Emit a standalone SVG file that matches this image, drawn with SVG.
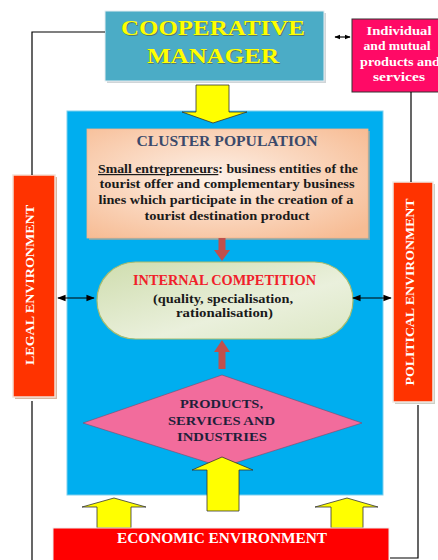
<svg xmlns="http://www.w3.org/2000/svg" width="438" height="560" viewBox="0 0 438 560">
<defs>
<style>
text{font-family:"Liberation Serif","Times New Roman",serif;font-weight:bold;text-anchor:middle}
.ln{fill:none;stroke:#000;stroke-width:1.2}
.yarrow{fill:#FFFF00;stroke:#333;stroke-width:0.8}
.rarrow{fill:#C0504D}
.wt{fill:#fff}
</style>
<radialGradient id="gPeach" cx="0.45" cy="0.45" r="0.7">
<stop offset="0" stop-color="#FDF1E8"/>
<stop offset="1" stop-color="#F7BC94"/>
</radialGradient>
<linearGradient id="gGreen" x1="0" y1="0" x2="1" y2="1">
<stop offset="0" stop-color="#CFDDAE"/>
<stop offset="0.6" stop-color="#EAF0DC"/>
<stop offset="1" stop-color="#DCE7C4"/>
</linearGradient>
<marker id="ah" viewBox="0 0 10 10" refX="9" refY="5" markerWidth="7" markerHeight="7" orient="auto-start-reverse">
<path d="M0,1 L10,5 L0,9 Z" fill="#000"/>
</marker>
<marker id="ahs" viewBox="0 0 10 10" refX="9" refY="5" markerWidth="5" markerHeight="5" orient="auto-start-reverse">
<path d="M0,1 L10,5 L0,9 Z" fill="#000"/>
</marker>
</defs>

<g id="main-box">
<rect x="67" y="111" width="316" height="384" fill="#00AEEF"/>
<rect x="67" y="111" width="316" height="384" fill="none" stroke="#7ccfee" stroke-width="1"/>
</g>

<g id="manager-arrow">
<path class="yarrow" d="M196,85 L229,85 L229,112 L247,112 L213,123 L182,112 L196,112 Z"/>
</g>

<g id="cooperative-manager">
<rect x="107" y="13" width="219" height="70" fill="#D0D5D8"/>
<rect x="105" y="11" width="219" height="70" fill="#4BACC6" stroke="#e6eef2" stroke-width="1"/>
<text x="214" y="36" font-size="21" fill="#5a5a30" opacity="0.6" textLength="184" lengthAdjust="spacingAndGlyphs">COOPERATIVE</text>
<text x="213" y="35" font-size="21" fill="#FFFF00" textLength="184" lengthAdjust="spacingAndGlyphs">COOPERATIVE</text>
<text x="214" y="64" font-size="21" fill="#5a5a30" opacity="0.6" textLength="132" lengthAdjust="spacingAndGlyphs">MANAGER</text>
<text x="213" y="63" font-size="21" fill="#FFFF00" textLength="132" lengthAdjust="spacingAndGlyphs">MANAGER</text>
</g>

<g id="individual">
<rect x="352" y="19" width="96" height="73" fill="#FF0A66" stroke="#333" stroke-width="1"/>
<text class="wt" x="399" y="35" font-size="12" textLength="65" lengthAdjust="spacingAndGlyphs">Individual</text>
<text class="wt" x="397" y="50" font-size="12" textLength="67" lengthAdjust="spacingAndGlyphs">and mutual</text>
<text class="wt" x="400" y="66" font-size="12" textLength="80" lengthAdjust="spacingAndGlyphs">products and</text>
<text class="wt" x="399" y="81" font-size="12" textLength="52" lengthAdjust="spacingAndGlyphs">services</text>
</g>

<g id="cluster-population">
<rect x="89" y="131" width="281" height="109" fill="#C9A58B" opacity="0.6"/>
<rect x="87" y="129" width="281" height="109" fill="url(#gPeach)" stroke="#F2B48A" stroke-width="0.8"/>
<text x="227" y="146" font-size="14" fill="#3B4A6B" textLength="181" lengthAdjust="spacingAndGlyphs">CLUSTER POPULATION</text>
<text x="228" y="173" font-size="12" fill="#1a1a1a" textLength="260" lengthAdjust="spacingAndGlyphs"><tspan text-decoration="underline">Small entrepreneurs</tspan>: business entities of the</text>
<text x="227" y="188" font-size="12" fill="#1a1a1a" textLength="255" lengthAdjust="spacingAndGlyphs">tourist offer and complementary business</text>
<text x="226" y="204" font-size="12" fill="#1a1a1a" textLength="255" lengthAdjust="spacingAndGlyphs">lines which participate in the creation of a</text>
<text x="227" y="220" font-size="12" fill="#1a1a1a" textLength="165" lengthAdjust="spacingAndGlyphs">tourist destination product</text>
</g>

<g id="red-arrows">
<path class="rarrow" d="M218.5,238 L225.5,238 L225.5,250 L230,250 L222,261 L214,250 L218.5,250 Z"/>
<path class="rarrow" d="M218.5,369 L225.5,369 L225.5,352 L230,352 L222,340 L214,352 L218.5,352 Z"/>
</g>

<g id="internal-competition">
<rect x="97" y="262" width="256" height="77" rx="38.5" ry="38.5" fill="url(#gGreen)" stroke="#A7BC6E" stroke-width="1.2"/>
<text x="224.5" y="285" font-size="14" fill="#F0202A" textLength="183" lengthAdjust="spacingAndGlyphs">INTERNAL COMPETITION</text>
<text x="223" y="303" font-size="12.5" fill="#1a1a1a" textLength="140" lengthAdjust="spacingAndGlyphs">(quality, specialisation,</text>
<text x="224.5" y="317" font-size="12.5" fill="#1a1a1a" textLength="97" lengthAdjust="spacingAndGlyphs">rationalisation)</text>
</g>

<g id="products">
<polygon points="222,375 362,423 222,467 83,423" fill="#F26C9C" stroke="#7a4a6a" stroke-width="0.6"/>
<text x="221.5" y="408" font-size="13" fill="#1F1F3A" textLength="83" lengthAdjust="spacingAndGlyphs">PRODUCTS,</text>
<text x="221.5" y="425" font-size="13" fill="#1F1F3A" textLength="107" lengthAdjust="spacingAndGlyphs">SERVICES AND</text>
<text x="222" y="441" font-size="13" fill="#1F1F3A" textLength="90" lengthAdjust="spacingAndGlyphs">INDUSTRIES</text>
</g>

<g id="yellow-up-arrows">
<path class="yarrow" d="M207,511 L239,511 L239,470 L253,470 L222,457 L192,470 L207,470 Z"/>
<path class="yarrow" d="M97,528 L131,528 L131,507 L146,507 L114,498 L82,507 L97,507 Z"/>
<path class="yarrow" d="M331,528 L363,528 L363,507 L378,507 L347,498 L315,507 L331,507 Z"/>
</g>

<g id="legal-environment">
<rect x="15" y="177" width="42" height="222" fill="#D9B7A0"/>
<rect x="13" y="175" width="42" height="222" fill="#FF3300" stroke="#f3e1d6" stroke-width="1.5"/>
<text class="wt" transform="translate(34,285) rotate(-90)" font-size="12" textLength="160" lengthAdjust="spacingAndGlyphs">LEGAL ENVIRONMENT</text>
</g>

<g id="political-environment">
<rect x="395" y="184" width="40" height="220" fill="#CFCFC4"/>
<rect x="393" y="182" width="40" height="220" fill="#FF3300" stroke="#f0ece6" stroke-width="1.5"/>
<text class="wt" transform="translate(414,292) rotate(-90)" font-size="12" textLength="187" lengthAdjust="spacingAndGlyphs">POLITICAL ENVIRONMENT</text>
</g>

<g id="economic-environment">
<rect x="53" y="528" width="336" height="36" fill="#FF0000" stroke="#eee" stroke-width="1"/>
<text class="wt" x="222" y="543" font-size="14" textLength="210" lengthAdjust="spacingAndGlyphs">ECONOMIC ENVIRONMENT</text>
</g>

<g id="connectors">
<polyline class="ln" points="105,32 32,32 32,175"/>
<line class="ln" x1="32" y1="401" x2="32" y2="560"/>
<line class="ln" x1="411" y1="92" x2="411" y2="182"/>
<polyline class="ln" points="418,405 418,558 390,558"/>
<line class="ln" x1="335" y1="37" x2="350" y2="37" marker-start="url(#ahs)" marker-end="url(#ahs)"/>
<line class="ln" x1="58" y1="298" x2="94" y2="298" marker-start="url(#ah)" marker-end="url(#ah)"/>
<line class="ln" x1="353" y1="298" x2="391" y2="298" marker-start="url(#ah)" marker-end="url(#ah)"/>
</g>
</svg>
